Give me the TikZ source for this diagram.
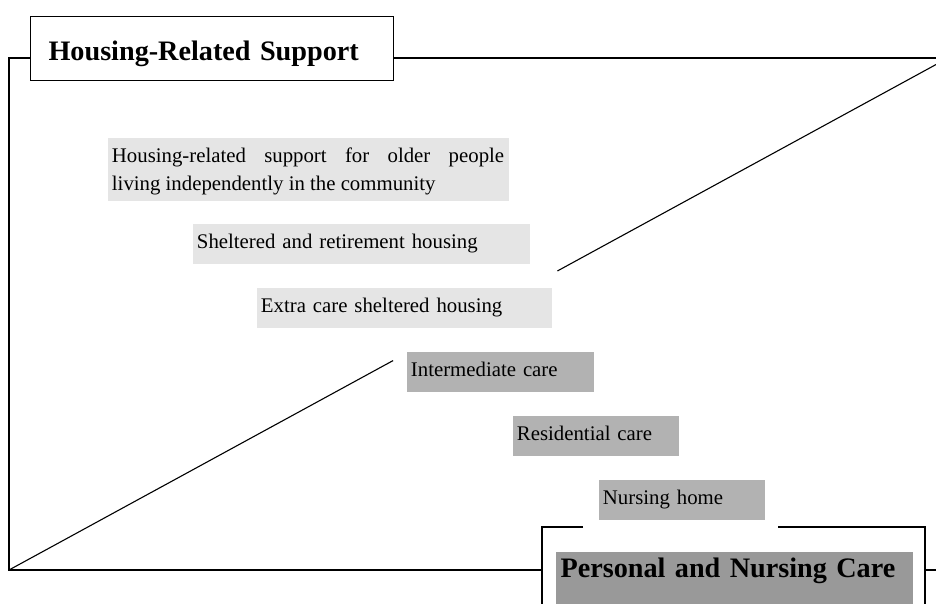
\documentclass[tikz,border=0pt]{standalone}
\usepackage{fontspec}
\setmainfont{Liberation Serif}
\definecolor{lightbox}{gray}{0.9}
\definecolor{midbox}{gray}{0.7}
\definecolor{darkbox}{gray}{0.6}
\tikzset{
  stage/.style={anchor=north west,inner xsep=2.2pt,inner ysep=0pt,text height=12.3pt,text depth=7.7pt,align=left,font=\fontsize{10.4}{14.2}\selectfont},
  headbox/.style={anchor=north west,inner ysep=0pt,align=left,font=\fontsize{14.1}{17}\selectfont\bfseries},
}
\begin{document}
\begin{tikzpicture}[x=0.5pt,y=-0.5pt,line width=0.55pt]
\useasboundingbox(0,0)rectangle(936,604);
\clip(0,0)rectangle(936,604);
\pgfmathsetmacro{\fl}{9}
\pgfmathsetmacro{\ft}{58}
\pgfmathsetmacro{\fr}{948}
\pgfmathsetmacro{\fb}{570}
\draw(\fl,\ft)rectangle(\fr,\fb);
\coordinate(sw)at(\fl,\fb);
\coordinate(ne)at(\fr,\ft);
\path(sw)--(ne)coordinate[pos=0.409](gapa)coordinate[pos=0.584](gapb);
\draw(sw)--(gapa);
\draw(gapb)--(ne);
\node[headbox,draw,fill=white,inner xsep=9pt,text width=163.5pt,text height=22pt,text depth=10pt](hrs)at(30,16){Housing-Related Support};
\node[stage,fill=lightbox,align=justify,text width=196.1pt,text depth=19.2pt](indep)at(107,137){Housing-related support for older people\linebreak living independently in the community};
\foreach \nm/\bx/\by/\bw/\bc/\txt in {shelt/192/223/337/lightbox/Sheltered and retirement housing,extra/256/287/295/lightbox/Extra care sheltered housing,inter/406/351/187/midbox/Intermediate care,resid/512/415/166/midbox/Residential care,nurs/598/479/166/midbox/Nursing home}{\pgfmathsetmacro{\tw}{\bw/2-4.4}\node[stage,fill=\bc,text width=\tw pt](\nm)at(\bx,\by){\txt};}
\fill[white](542,527)rectangle(925,650);
\draw(583,527)-|(542,650);
\draw(778,527)-|(925,650);
\node[headbox,fill=darkbox,inner xsep=2.5pt,text width=173.5pt,text height=13pt,text depth=40pt](pnc)at(555,551){Personal and Nursing Care};
\end{tikzpicture}
\end{document}
